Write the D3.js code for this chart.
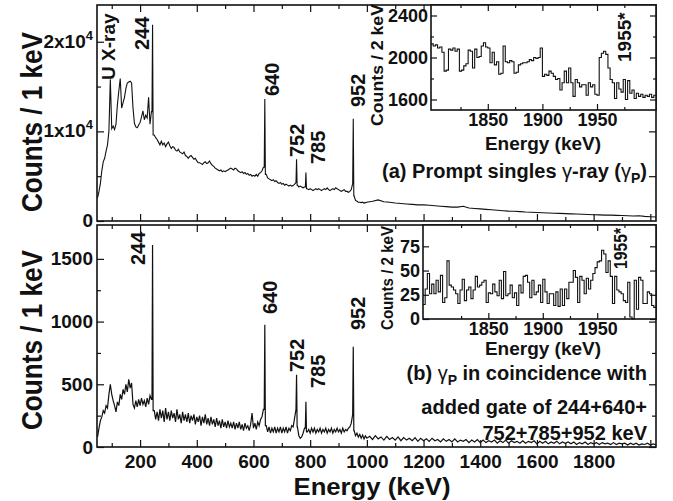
<!DOCTYPE html>
<html>
<head>
<meta charset="utf-8">
<script src="https://cdn.jsdelivr.net/npm/d3@7"></script>
<style>
  body { margin: 0; background: #fff; }
  text { font-family: "Liberation Sans", Arial, sans-serif; font-weight: bold; fill: #111; }
</style>
</head>
<body>
<svg id="chart" width="673" height="501"></svg>
<script>
// channel energies (keV) of the two sampling grids
var lowE = d3.range(50, 1001, 5);
var highAE = d3.range(1020, 2021, 20);
var highBE = d3.range(1010, 2021, 10);

// (a) prompt singles, counts / 1 keV
var countsALow = [
  2600, 3300, 4200, 5600, 6600, 7000, 7800, 8500, 10000, 15800,
  10300, 10600, 10200, 10800, 13000, 14500, 15900, 12600, 13200, 13800,
  14800, 15400, 15500, 15600, 15400, 12600, 10900, 10500, 10400, 10700,
  11000, 11600, 12300, 11300, 11800, 11500, 13800, 10800, 12200, 11000,
  9600, 9300, 9100, 8800, 8500, 8900, 8500, 8700, 8300, 8600,
  8800, 8400, 8100, 8300, 8200, 7900, 7800, 8000, 7700, 7600,
  7500, 7700, 7300, 7200, 7000, 7200, 7300, 7100, 6900, 7000,
  6700, 6500, 6500, 6400, 6300, 6500, 6600, 6400, 6500, 6700,
  6400, 6200, 6100, 5900, 5800, 5700, 5600, 5700, 5500, 5600,
  5500, 5600, 5700, 5800, 5900, 5800, 5700, 5900, 5800, 5600,
  5500, 5400, 5500, 5300, 5400, 5200, 5300, 5100, 5200, 5000,
  5100, 5000, 5200, 5000, 5300, 5400, 5600, 6000, 5800, 5200,
  4800, 4700, 4600, 4500, 4600, 4400, 4500, 4300, 4200, 4300,
  4100, 4200, 4000, 4100, 4000, 3900, 4000, 3900, 3950, 4100,
  4300, 4000, 3800, 3900, 3800, 3700, 3800, 3900, 3600, 3500,
  3600, 3500, 3400, 3500, 3600, 3500, 3600, 3500, 3400, 3500,
  3600, 3500, 3700, 3500, 3400, 3500, 3600, 3500, 3700, 3600,
  3500, 3400, 3300, 3400, 3500, 3300, 3300, 3200, 3300, 3500,
  4200, 2800, 2300, 2200, 2100, 2100, 2050, 2100, 2000, 2050,
  2100
];
var countsAHigh = [
  2200, 2350, 2150, 2100, 2000, 1950, 1900, 1850, 1800, 1800,
  1750, 1700, 1650, 1600, 1550, 1550, 1650, 1450, 1400, 1350,
  1300, 1250, 1200, 1150, 1100, 1080, 1050, 1000, 980, 950,
  920, 900, 870, 850, 820, 800, 780, 750, 720, 700,
  680, 660, 650, 630, 610, 590, 560, 580, 520, 480,
  450
];

// (b) coincidence with gates, counts / 1 keV
var countsBLow = [
  80, 150, 210, 240, 290, 270, 330, 310, 420, 500,
  420, 370, 330, 280, 360, 330, 420, 380, 460, 420,
  500, 440, 540, 470, 510, 340, 310, 370, 320, 380,
  330, 390, 340, 370, 320, 390, 340, 410, 380, 300,
  290, 220, 280, 210, 300, 230, 290, 200, 310, 220,
  280, 210, 290, 230, 270, 200, 300, 220, 260, 190,
  280, 210, 260, 200, 270, 190, 250, 210, 260, 180,
  240, 200, 250, 170, 240, 190, 260, 180, 230, 170,
  240, 180, 220, 160, 230, 170, 210, 150, 220, 160,
  200, 150, 210, 160, 190, 150, 200, 140, 190, 150,
  200, 140, 180, 130, 190, 150, 170, 130, 180, 270,
  150, 190, 140, 200, 170, 220, 240, 300, 260, 170,
  120, 160, 110, 150, 120, 160, 110, 150, 120, 160,
  110, 150, 120, 160, 110, 150, 130, 170, 160, 230,
  300, 160, 90, 70, 80, 110, 150, 200, 120, 140,
  110, 150, 120, 150, 110, 140, 120, 150, 110, 140,
  120, 150, 110, 140, 120, 150, 110, 140, 120, 150,
  120, 140, 110, 150, 120, 140, 130, 150, 160, 190,
  260, 130, 90, 110, 80, 100, 70, 95, 65, 90,
  70
];
var countsBHigh = [
  85, 60, 90, 65, 80, 55, 85, 60, 75, 55,
  80, 50, 75, 55, 70, 50, 75, 45, 70, 50,
  65, 45, 70, 50, 60, 40, 65, 45, 60, 40,
  65, 40, 55, 45, 60, 35, 55, 40, 60, 35,
  55, 35, 50, 40, 55, 30, 50, 35, 55, 30,
  50, 35, 45, 30, 50, 30, 45, 35, 50, 25,
  45, 30, 45, 25, 40, 30, 45, 25, 40, 30,
  40, 25, 40, 20, 35, 25, 40, 20, 35, 25,
  35, 20, 35, 25, 30, 20, 35, 20, 30, 25,
  30, 15, 30, 20, 30, 15, 25, 20, 30, 15,
  25, 18
];

// sharp lines (keV) and their peak heights
var lineE = [244, 640, 752, 785, 952];
var lineTopA = [21900, 13600, 6900, 5400, 11400];
var lineTopB = [1610, 975, 575, 360, 800];

// insets, counts / 2 keV, bins starting at the left edge
var insetAStart = 1798;
var insetA = [
  2130, 2110, 2120, 2090, 2100, 2050, 1870, 1880, 2080, 2070,
  2090, 2060, 2080, 1870, 1880, 1920, 1940, 2070, 2060, 1900,
  2080, 2000, 2010, 2110, 2140, 2100, 2090, 1950, 2050, 1930,
  1960, 1840, 1850, 2110, 1960, 1950, 1970, 1960, 1850, 1860,
  1930, 1940, 1950, 1950, 1960, 1980, 1970, 2000, 1990, 2000,
  2090, 1820, 1840, 1830, 1870, 1850, 1820, 1790, 1800, 1690,
  1760, 1870, 1760, 1900, 1760, 1630, 1790, 1760, 1720, 1740,
  1740, 1640, 1760, 1720, 1740, 1650, 1640, 2000, 2040, 2060,
  2030, 1900, 1790, 1760, 1610, 1760, 1700, 1670, 1790, 1600,
  1780, 1660, 1690, 1610, 1660, 1630, 1650, 1620, 1640, 1630,
  1650, 1620, 1640
];
var insetBStart = 1790;
var insetB = [
  15, 31, 47, 26, 36, 26, 40, 28, 45, 17,
  22, 60, 35, 33, 30, 26, 16, 30, 41, 19,
  30, 33, 21, 30, 44, 33, 35, 38, 40, 17,
  27, 26, 36, 28, 24, 40, 21, 49, 24, 26,
  35, 22, 27, 14, 35, 27, 44, 45, 38, 22,
  40, 25, 28, 35, 17, 41, 28, 16, 26, 26,
  14, 28, 13, 31, 14, 31, 21, 38, 38, 50,
  43, 17, 44, 40, 26, 42, 31, 40, 47, 53,
  59, 60, 71, 67, 48, 60, 44, 16, 44, 30,
  28, 26, 19, 17, 38, 2, 0, 40, 10, 43,
  40, 16, 16, 28, 26, 14, 12
];

var svg = d3.select("#chart");

var x = d3.scaleLinear().domain([48, 2020]).range([97, 656]);
var yA = d3.scaleLinear().domain([0, 24100]).range([221, 5]);
var yB = d3.scaleLinear().domain([0, 1770]).range([447, 225]);
var xIa = d3.scaleLinear().domain([1798, 2004]).range([431, 656]);
var yIa = d3.scaleLinear().domain([1500, 2500]).range([110, 5]);
var xIb = d3.scaleLinear().domain([1790, 2004]).range([423, 656]);
var yIb = d3.scaleLinear().domain([0, 97]).range([319, 225]);

// join the grids and drop in the narrow lines
function spectrum(lowV, hiE, hiV, tops) {
  var pts = lowE.map(function(e, i) { return [e, lowV[i]]; })
    .concat(hiE.map(function(e, i) { return [e, hiV[i]]; }));
  lineE.forEach(function(e, k) {
    var lo = e - 2, hi = e + 2;
    var left = pts.filter(function(p) { return p[0] <= lo; }).pop();
    var right = pts.find(function(p) { return p[0] >= hi; });
    pts = pts.filter(function(p) { return p[0] <= lo || p[0] >= hi; });
    pts.push([lo, left[1]], [e, tops[k]], [hi, right[1]]);
    pts.sort(function(a, b) { return a[0] - b[0]; });
  });
  return pts;
}

function ticks(axisFn, scale, vals, size, tx, ty) {
  svg.append("g")
    .attr("transform", "translate(" + tx + "," + ty + ")")
    .call(axisFn(scale).tickValues(vals).tickSize(size).tickFormat(""))
    .call(function(g) { g.select(".domain").remove(); })
    .selectAll("line").attr("stroke", "#111").attr("stroke-width", 1.2);
}

function labels(axisFn, scale, vals, pad, tx, ty, fs) {
  svg.append("g")
    .attr("transform", "translate(" + tx + "," + ty + ")")
    .call(axisFn(scale).tickValues(vals).tickSize(0).tickPadding(pad).tickFormat(d3.format("d")))
    .attr("font-size", fs)
    .call(function(g) { g.select(".domain").remove(); });
}

function frame(x0, y0, x1, y1) {
  svg.append("rect").attr("x", x0).attr("y", y0)
    .attr("width", x1 - x0).attr("height", y1 - y0)
    .attr("fill", "#fff").attr("stroke", "#111").attr("stroke-width", 1.6);
}

function vtext(str, bx, by, fs) {
  return svg.append("text")
    .attr("transform", "translate(" + bx + "," + by + ") rotate(-90)")
    .attr("font-size", fs)
    .text(str);
}

// main frames
frame(97, 5, 656, 221);
frame(97, 225, 656, 447);

var majX = d3.range(200, 2001, 200), minX = d3.range(100, 2001, 200);
ticks(d3.axisBottom, x, majX, -7, 0, 221);
ticks(d3.axisBottom, x, minX, -4, 0, 221);
ticks(d3.axisTop, x, majX.filter(function(v) { return x(v) < 425; }), -7, 0, 5);
ticks(d3.axisTop, x, minX.filter(function(v) { return x(v) < 425; }), -4, 0, 5);
ticks(d3.axisTop, x, majX.filter(function(v) { return x(v) < 418; }), -7, 0, 225);
ticks(d3.axisTop, x, minX.filter(function(v) { return x(v) < 418; }), -4, 0, 225);
ticks(d3.axisBottom, x, majX, -7, 0, 447);
ticks(d3.axisBottom, x, minX, -4, 0, 447);

ticks(d3.axisLeft, yA, [0, 10000, 20000], -7, 97, 0);
ticks(d3.axisLeft, yA, [5000, 15000], -4, 97, 0);
ticks(d3.axisRight, yA, [5000, 10000, 15000], -7, 656, 0);
ticks(d3.axisLeft, yB, [0, 500, 1000, 1500], -7, 97, 0);
ticks(d3.axisLeft, yB, [250, 750, 1250], -4, 97, 0);
ticks(d3.axisRight, yB, [0, 500, 1000, 1500], -7, 656, 0);
ticks(d3.axisRight, yB, [250, 750, 1250], -4, 656, 0);

// spectra
var line = function(ys) {
  return d3.line().x(function(d) { return x(d[0]); }).y(function(d) { return ys(d[1]); });
};
svg.append("path")
  .attr("d", line(yA)(spectrum(countsALow, highAE, countsAHigh, lineTopA)))
  .attr("fill", "none").attr("stroke", "#111").attr("stroke-width", 1.1);
svg.append("path")
  .attr("d", line(yB)(spectrum(countsBLow, highBE, countsBHigh, lineTopB)))
  .attr("fill", "none").attr("stroke", "#111").attr("stroke-width", 1.2);

// main labels
labels(d3.axisBottom, x, d3.range(200, 1801, 200), 8, 0, 447, 19);
labels(d3.axisLeft, yB, [0, 500, 1000, 1500], 4, 97, 0, 19);

var yTicksA = [0, 10000, 20000];
var yTickTextA = ["0", "1x10", "2x10"];
yTicksA.forEach(function(v, i) {
  var t = svg.append("text").attr("x", 93).attr("y", yA(v) + 6)
    .attr("text-anchor", "end").attr("font-size", 19).text(yTickTextA[i]);
  if (v > 0) t.append("tspan").attr("dy", -8).attr("font-size", 13).text("4");
});

vtext("Counts / 1 keV", 42, 122, 30).attr("text-anchor", "middle").attr("textLength", 180).attr("lengthAdjust", "spacingAndGlyphs");
vtext("Counts / 1 keV", 42, 340, 30).attr("text-anchor", "middle").attr("textLength", 180).attr("lengthAdjust", "spacingAndGlyphs");
svg.append("text").attr("x", 372).attr("y", 495).attr("text-anchor", "middle")
  .attr("font-size", 24).attr("textLength", 157).attr("lengthAdjust", "spacingAndGlyphs")
  .text("Energy (keV)");

// peak labels
var peakLabels = ["U X-ray", "244", "640", "752", "785", "952"];
var labA = [[108, 80, 19], [142, 50, 20], [272, 96, 20], [297, 157, 20], [318, 164, 20], [358, 107, 20]];
var labB = [null, [138, 265, 20], [270, 314, 20], [297, 372, 20], [318, 388, 20], [358, 330, 20]];
peakLabels.forEach(function(s, i) {
  vtext(s, labA[i][0] + 7, labA[i][1], labA[i][2]);
  if (labB[i]) vtext(s, labB[i][0] + 7, labB[i][1], labB[i][2]);
});

// panel annotations
var ta = svg.append("text").attr("x", 647).attr("y", 178).attr("text-anchor", "end").attr("font-size", 20);
ta.append("tspan").text("(a) Prompt singles ");
ta.append("tspan").attr("font-weight", "normal").text("\u03b3");
ta.append("tspan").text("-ray (");
ta.append("tspan").attr("font-weight", "normal").text("\u03b3");
ta.append("tspan").attr("font-size", 14).attr("dy", 5).text("P");
ta.append("tspan").attr("dy", -5).text(")");

var tb = svg.append("text").attr("x", 647).attr("y", 380).attr("text-anchor", "end").attr("font-size", 20);
tb.append("tspan").text("(b) ");
tb.append("tspan").attr("font-weight", "normal").text("\u03b3");
tb.append("tspan").attr("font-size", 14).attr("dy", 5).text("P");
tb.append("tspan").attr("dy", -5).text(" in coincidence with");
svg.append("text").attr("x", 647).attr("y", 414).attr("text-anchor", "end").attr("font-size", 20)
  .text("added gate of 244+640+");
svg.append("text").attr("x", 647).attr("y", 440).attr("text-anchor", "end").attr("font-size", 20)
  .text("752+785+952 keV");

// insets
function inset(xs, ys, start, vals, x0, y0, x1, y1, yMaj, yMin) {
  frame(x0, y0, x1, y1);
  var pts = vals.map(function(v, i) { return [start + 2 * i, v]; });
  pts.push([start + 2 * vals.length, vals[vals.length - 1]]);
  svg.append("path")
    .attr("d", d3.line().curve(d3.curveStepAfter)
      .x(function(d) { return xs(d[0]); }).y(function(d) { return ys(d[1]); })(pts))
    .attr("fill", "none").attr("stroke", "#111").attr("stroke-width", 1.1);
  var xMaj = [1850, 1900, 1950], xMin = [1825, 1875, 1925, 1975];
  ticks(d3.axisBottom, xs, xMaj, -6, 0, y1);
  ticks(d3.axisBottom, xs, xMin, -3, 0, y1);
  ticks(d3.axisTop, xs, xMaj, -6, 0, y0);
  ticks(d3.axisTop, xs, xMin, -3, 0, y0);
  ticks(d3.axisLeft, ys, yMaj, -6, x0, 0);
  ticks(d3.axisRight, ys, yMaj, -6, x1, 0);
  if (yMin.length) {
    ticks(d3.axisLeft, ys, yMin, -3, x0, 0);
    ticks(d3.axisRight, ys, yMin, -3, x1, 0);
  }
  labels(d3.axisBottom, xs, xMaj, 3, 0, y1, 18);
  labels(d3.axisLeft, ys, yMaj, 3, x0, 0, 18);
}
inset(xIa, yIa, insetAStart, insetA, 431, 5, 656, 110, [1600, 2000, 2400], [1800, 2200]);
inset(xIb, yIb, insetBStart, insetB, 423, 225, 656, 319, [0, 25, 50, 75], []);

svg.append("text").attr("x", 543).attr("y", 150).attr("text-anchor", "middle").attr("font-size", 19).text("Energy (keV)");
svg.append("text").attr("x", 543).attr("y", 355).attr("text-anchor", "middle").attr("font-size", 19).text("Energy (keV)");
vtext("Counts / 2 keV", 383, 65, 17).attr("text-anchor", "middle").attr("textLength", 122).attr("lengthAdjust", "spacingAndGlyphs");
vtext("Counts / 2 keV", 393, 278, 16).attr("text-anchor", "middle").attr("textLength", 104).attr("lengthAdjust", "spacingAndGlyphs");
vtext("1955*", 631, 62, 19);
vtext("1955*", 627, 269, 18).attr("textLength", 41).attr("lengthAdjust", "spacingAndGlyphs");
</script>
</body>
</html>
